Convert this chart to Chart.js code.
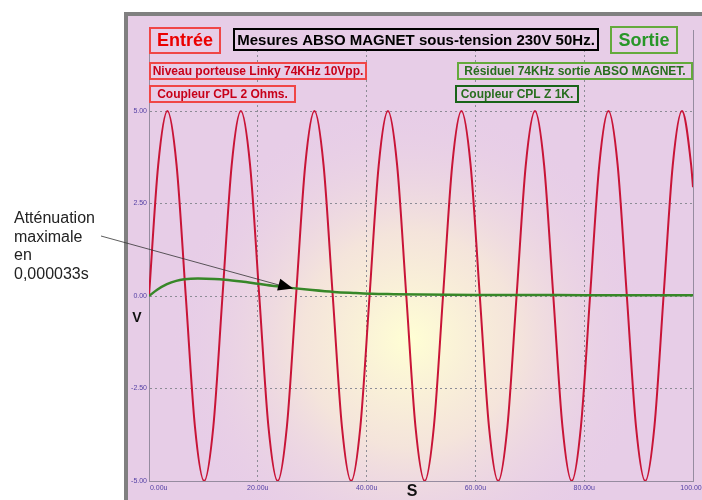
<!DOCTYPE html>
<html>
<head>
<meta charset="utf-8">
<script src="https://cdn.jsdelivr.net/npm/chart.js@4"></script>
<style>
  html, body { margin: 0; padding: 0; background: #fff; }
  canvas { display: block; }
</style>
</head>
<body>
<canvas id="scope" width="702" height="500"></canvas>
<script>
// time axis in microseconds
const xTicks = [0, 20, 40, 60, 80, 100];
const xTickLabels = ['0.00u', '20.00u', '40.00u', '60.00u', '80.00u', '100.00u'];
const yTicks = [-5, -2.5, 0, 2.5, 5];
const yTickLabels = ['-5.00', '-2.50', '0.00', '2.50', '5.00'];

// entrée : porteuse Linky 74KHz 10Vpp
const redT = [0, 1.69, 3.38, 5.07, 6.76, 8.45, 10.14, 11.82, 13.51, 15.20, 16.89, 18.58,
  20.27, 21.96, 23.65, 25.34, 27.03, 28.72, 30.41, 32.09, 33.78, 35.47, 37.16, 38.85,
  40.54, 42.23, 43.92, 45.61, 47.30, 48.99, 50.68, 52.36, 54.05, 55.74, 57.43, 59.12,
  60.81, 62.50, 64.19, 65.88, 67.57, 69.26, 70.95, 72.63, 74.32, 76.01, 77.70, 79.39,
  81.08, 82.77, 84.46, 86.15, 87.84, 89.53, 91.22, 92.90, 94.59, 96.28, 97.97, 99.66, 100];
const redV = [0, 3.54, 5, 3.54, 0, -3.54, -5, -3.54, 0, 3.54, 5, 3.54,
  0, -3.54, -5, -3.54, 0, 3.54, 5, 3.54, 0, -3.54, -5, -3.54,
  0, 3.54, 5, 3.54, 0, -3.54, -5, -3.54, 0, 3.54, 5, 3.54,
  0, -3.54, -5, -3.54, 0, 3.54, 5, 3.54, 0, -3.54, -5, -3.54,
  0, 3.54, 5, 3.54, 0, -3.54, -5, -3.54, 0, 3.54, 5, 3.54, 2.94];

// sortie : résiduel après ABSO MAGNET
const greenT = [0, 1.5, 3.3, 5, 6.5, 9, 12, 14, 17, 20, 23, 26, 30, 34, 38, 41, 45, 50, 60, 70, 80, 90, 100];
const greenV = [0, 0.17, 0.32, 0.41, 0.45, 0.47, 0.46, 0.44, 0.39, 0.33, 0.27, 0.22, 0.16, 0.11, 0.08, 0.06, 0.05, 0.04, 0.03, 0.03, 0.02, 0.02, 0.02];

const PANEL = 'rgb(231, 205, 231)';

function box(ctx, text, x1, y1, x2, y2, font, textColor, borderColor) {
  ctx.fillStyle = PANEL;
  ctx.fillRect(x1, y1, x2 - x1, y2 - y1);
  ctx.lineWidth = 2;
  ctx.strokeStyle = borderColor;
  ctx.strokeRect(x1, y1, x2 - x1, y2 - y1);
  ctx.font = font;
  ctx.fillStyle = textColor;
  ctx.textAlign = 'center';
  ctx.textBaseline = 'middle';
  ctx.fillText(text, (x1 + x2) / 2, (y1 + y2) / 2 + 1);
}

const scopeDecor = {
  id: 'scopeDecor',
  beforeDraw(chart) {
    const ctx = chart.ctx;
    ctx.save();
    ctx.fillStyle = '#fff';
    ctx.fillRect(0, 0, 702, 500);
    ctx.fillStyle = PANEL;
    ctx.fillRect(124, 12, 578, 488);
    // yellow glow in the middle of the screen
    const g = ctx.createRadialGradient(410, 340, 0, 410, 340, 240);
    g.addColorStop(0, 'rgba(255, 255, 212, 1)');
    g.addColorStop(0.45, 'rgba(250, 238, 214, 0.7)');
    g.addColorStop(1, 'rgba(231, 205, 231, 0)');
    ctx.fillStyle = g;
    ctx.fillRect(128, 15, 574, 485);
    // grey frame
    ctx.fillStyle = 'rgb(128, 128, 128)';
    ctx.fillRect(124, 12, 578, 4);
    ctx.fillRect(124, 12, 4, 488);
    ctx.restore();
  },
  afterDraw(chart) {
    const ctx = chart.ctx;
    const a = chart.chartArea;
    ctx.save();
    // right edge of the plot
    ctx.strokeStyle = 'rgb(150, 140, 160)';
    ctx.lineWidth = 1;
    ctx.beginPath();
    ctx.moveTo(a.right + 0.5, a.top);
    ctx.lineTo(a.right + 0.5, a.bottom);
    ctx.stroke();

    box(ctx, 'Entrée', 150, 28, 220, 53, 'bold 18px "Liberation Sans", Arial', 'rgb(235, 0, 0)', 'rgb(240, 70, 70)');
    box(ctx, 'Mesures ABSO MAGNET sous-tension 230V 50Hz.', 234, 29, 598, 50, 'bold 15px "Liberation Sans", Arial', '#000', '#000');
    box(ctx, 'Sortie', 611, 27, 677, 53, 'bold 18px "Liberation Sans", Arial', 'rgb(40, 150, 40)', 'rgb(100, 170, 60)');
    box(ctx, 'Niveau porteuse Linky 74KHz 10Vpp.', 150, 63, 366, 79, 'bold 12px "Liberation Sans", Arial', 'rgb(200, 0, 25)', 'rgb(240, 70, 70)');
    box(ctx, 'Coupleur CPL 2 Ohms.', 150, 86, 295, 102, 'bold 12px "Liberation Sans", Arial', 'rgb(200, 0, 25)', 'rgb(240, 70, 70)');
    box(ctx, 'Résiduel 74KHz sortie ABSO MAGNET.', 458, 63, 692, 79, 'bold 12px "Liberation Sans", Arial', 'rgb(40, 110, 30)', 'rgb(100, 170, 60)');
    box(ctx, 'Coupleur CPL Z 1K.', 456, 86, 578, 102, 'bold 12px "Liberation Sans", Arial', 'rgb(40, 110, 30)', 'rgb(25, 100, 25)');

    // axis names
    ctx.fillStyle = '#111';
    ctx.textAlign = 'center';
    ctx.textBaseline = 'middle';
    ctx.font = 'bold 14px "Liberation Sans", Arial';
    ctx.fillText('V', 137, 318);
    ctx.font = 'bold 16px "Liberation Sans", Arial';
    ctx.fillText('S', 412, 492);

    // annotation on the left
    ctx.fillStyle = '#222';
    ctx.textAlign = 'left';
    ctx.textBaseline = 'alphabetic';
    ctx.font = '16px "Liberation Sans", Arial';
    ['Atténuation', 'maximale', 'en', '0,000033s'].forEach((s, i) => ctx.fillText(s, 14, 223 + i * 18.5));

    const tipX = chart.scales.x.getPixelForValue(26.5);
    const tipY = chart.scales.y.getPixelForValue(0.2);
    ctx.strokeStyle = '#333';
    ctx.lineWidth = 0.8;
    ctx.beginPath();
    ctx.moveTo(101, 236);
    ctx.lineTo(tipX - 12, tipY - 3);
    ctx.stroke();
    const ang = Math.atan2(tipY - 236, tipX - 101);
    ctx.fillStyle = '#000';
    ctx.beginPath();
    ctx.moveTo(tipX, tipY);
    ctx.lineTo(tipX - 15 * Math.cos(ang) + 6 * Math.sin(ang), tipY - 15 * Math.sin(ang) - 6 * Math.cos(ang));
    ctx.lineTo(tipX - 15 * Math.cos(ang) - 6 * Math.sin(ang), tipY - 15 * Math.sin(ang) + 6 * Math.cos(ang));
    ctx.closePath();
    ctx.fill();
    ctx.restore();
  }
};

const ctx = document.getElementById('scope').getContext('2d');
new Chart(ctx, {
  type: 'line',
  data: {
    datasets: [
      {
        label: 'Sortie',
        data: greenT.map((t, i) => ({ x: t, y: greenV[i] })),
        borderColor: 'rgb(55, 135, 40)',
        borderWidth: 2.5,
        pointRadius: 0,
        cubicInterpolationMode: 'monotone'
      },
      {
        label: 'Entrée',
        data: redT.map((t, i) => ({ x: t, y: redV[i] })),
        borderColor: 'rgb(200, 20, 55)',
        borderWidth: 2,
        pointRadius: 0,
        cubicInterpolationMode: 'monotone'
      }
    ]
  },
  options: {
    responsive: false,
    animation: false,
    devicePixelRatio: 1,
    layout: { padding: { top: 30, right: 9, left: 0, bottom: 0 } },
    plugins: { legend: { display: false }, tooltip: { enabled: false } },
    scales: {
      x: {
        type: 'linear',
        min: 0,
        max: 100,
        afterFit(scale) {
          scale.height = 19;
          scale.paddingLeft = 0;
          scale.paddingRight = 0;
        },
        afterBuildTicks(scale) { scale.ticks = xTicks.map(v => ({ value: v })); },
        grid: { color: 'rgb(140, 140, 150)', lineWidth: 1, drawTicks: false },
        border: { display: true, color: 'rgb(150, 140, 160)', width: 1, dash: [2, 3] },
        ticks: {
          maxRotation: 0,
          autoSkip: false,
          padding: 3,
          color: 'rgb(85, 65, 165)',
          font: { family: '"Liberation Sans", Arial', size: 7 },
          callback: (v) => {
            const s = xTickLabels[xTicks.indexOf(v)];
            return v === 0 ? '          ' + s : s;
          }
        }
      },
      y: {
        type: 'linear',
        min: -5,
        max: 7.19,
        afterFit(scale) {
          scale.width = 149;
          scale.paddingTop = 0;
          scale.paddingBottom = 0;
        },
        afterBuildTicks(scale) { scale.ticks = yTicks.map(v => ({ value: v })); },
        grid: { color: 'rgb(140, 140, 150)', lineWidth: 1, drawTicks: false },
        border: { display: true, color: 'rgb(150, 140, 160)', width: 1, dash: [2, 3] },
        ticks: {
          padding: 2,
          color: 'rgb(85, 65, 165)',
          font: { family: '"Liberation Sans", Arial', size: 7 },
          callback: (v) => yTickLabels[yTicks.indexOf(v)]
        }
      }
    }
  },
  plugins: [scopeDecor]
});
</script>
</body>
</html>
